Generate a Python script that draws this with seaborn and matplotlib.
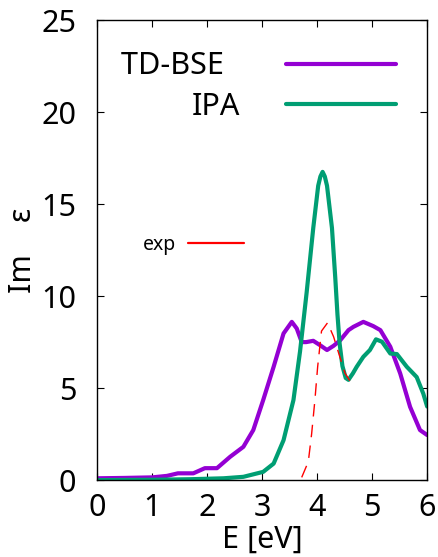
import seaborn as sns
import matplotlib.pyplot as plt
import numpy as np
import pandas as pd

sns.set_style("ticks")
plt.rcParams["font.family"] = ["Noto Sans", "DejaVu Sans"]
plt.rcParams.update({"text.color": "black", "axes.labelcolor": "black",
                     "xtick.color": "black", "ytick.color": "black",
                     "axes.edgecolor": "black"})

# TD-BSE spectrum
bse_e = [0.0, 0.5, 1.0, 1.27, 1.47, 1.75, 1.96, 2.18, 2.42, 2.66, 2.84, 3.02, 3.21, 3.39,
         3.54, 3.63, 3.72, 3.8, 3.93, 4.05, 4.18, 4.3, 4.42, 4.57, 4.66, 4.84, 5.02,
         5.15, 5.33, 5.51, 5.69, 5.87, 6.0]
bse_im = [0.1, 0.12, 0.15, 0.23, 0.37, 0.37, 0.65, 0.65, 1.27, 1.81, 2.72, 4.35, 6.16, 7.97,
          8.6, 8.24, 7.5, 7.5, 7.57, 7.34, 7.07, 7.3, 7.6, 8.15, 8.33, 8.6, 8.37,
          8.15, 7.25, 5.8, 3.98, 2.72, 2.45]

# IPA spectrum
ipa_e = [0.0, 1.0, 1.7, 2.3, 2.66, 3.02, 3.21, 3.39, 3.48, 3.57, 3.69, 3.81, 3.93, 4.02,
         4.06, 4.10, 4.14, 4.18, 4.27, 4.33, 4.37, 4.41, 4.46, 4.52, 4.57, 4.65, 4.72,
         4.84, 4.96, 5.07, 5.18, 5.33, 5.45, 5.63, 5.81, 5.93, 6.0]
ipa_im = [0.0, 0.02, 0.05, 0.1, 0.18, 0.45, 0.9, 2.17, 3.26, 4.35, 7.0, 10.2, 13.7, 16.0,
          16.5, 16.75, 16.5, 16.0, 13.7, 11.0, 9.0, 7.4, 6.2, 5.55, 5.45, 5.8, 6.16,
          6.7, 7.07, 7.65, 7.52, 6.88, 6.85, 6.16, 5.6, 4.7, 4.0]

# experiment
exp_e = [3.72, 3.84, 3.9, 3.96, 4.01, 4.08, 4.19, 4.3, 4.45, 4.51, 4.66]
exp_im = [0.15, 1.0, 2.5, 4.35, 6.16, 8.1, 8.55, 7.79, 6.34, 5.8, 5.1]

fig = plt.figure(figsize=(4.39, 5.57), dpi=100)
ax = fig.add_axes([0.221, 0.138, 0.752, 0.826])

l1, = ax.plot(bse_e, bse_im, color="#9400D3", lw=3.0, label="TD-BSE  ")
l2, = ax.plot(ipa_e, ipa_im, color="#009E73", lw=3.0, label="IPA")
l3, = ax.plot(exp_e, exp_im, color="#FF0000", lw=1.0, ls=(0, (9, 6)), label="exp")

ax.set_xlim(0, 6)
ax.set_ylim(0, 25)
ax.set_xticks(range(0, 7))
ax.set_yticks(range(0, 26, 5))
ax.tick_params(direction="in", top=True, right=True, length=5, width=0.8,
               labelsize=22)
ax.tick_params(axis="x", pad=9.5)
ax.tick_params(axis="y", pad=15)
for s in ax.spines.values():
    s.set_linewidth(1.0)

ax.set_xlabel("E [eV]", fontsize=22, labelpad=1)
ax.set_ylabel("Im    ε", fontsize=22, labelpad=2)

leg1 = ax.legend(handles=[l1, l2], loc="upper right", bbox_to_anchor=(0.906, 0.932),
                 frameon=False, markerfirst=False, fontsize=22, handlelength=3.6,
                 labelspacing=0.35, handletextpad=1.5, borderpad=0, borderaxespad=0)
ax.add_artist(leg1)
leg2 = ax.legend(handles=[l3], loc="center left", bbox_to_anchor=(0.139, 0.511),
                 frameon=False, markerfirst=False, fontsize=14, handlelength=2.9,
                 handletextpad=0.6, borderpad=0, borderaxespad=0)
for h in leg2.legend_handles:
    h.set_linestyle("-")
    h.set_linewidth(1.6)

fig.savefig("out.png", dpi=100)
